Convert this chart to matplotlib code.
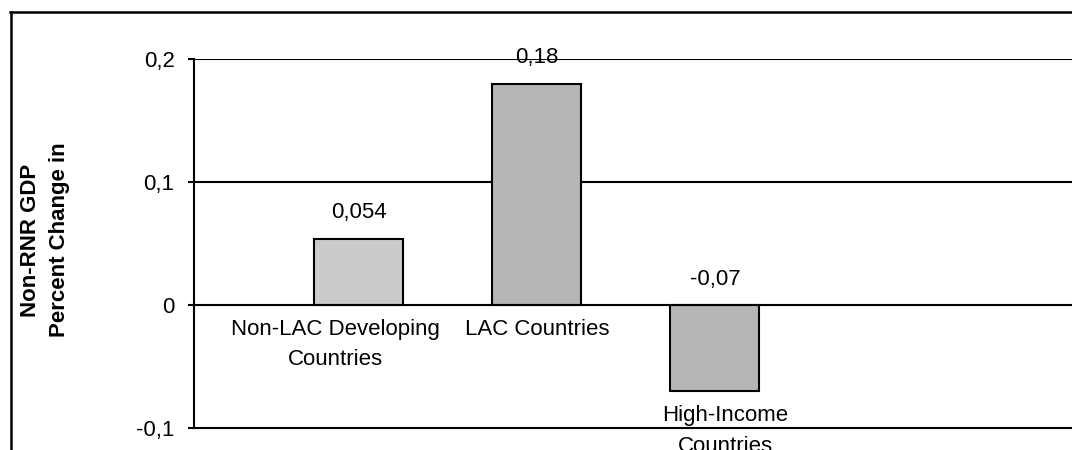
import matplotlib
matplotlib.use("Agg")
import matplotlib.pyplot as plt
from matplotlib.lines import Line2D

categories = ["Non-LAC Developing\nCountries", "LAC Countries", "High-Income\nCountries"]
values = [0.054, 0.18, -0.07]
value_labels = ["0,054", "0,18", "-0,07"]
yticks = [-0.1, 0.0, 0.1, 0.2]
ytick_labels = ["-0,1", "0", "0,1", "0,2"]
ylabel = "Non-RNR GDP\nPercent Change in"

plt.rcParams['font.family'] = ['Liberation Sans', 'DejaVu Sans']

W, H = 1072, 450
fig = plt.figure(figsize=(W / 100, H / 100), dpi=100)
fig.patch.set_facecolor("white")

ax = fig.add_axes([194 / W, 1 - 428 / H, (W - 194) / W, (428 - 59) / H])
x = list(range(len(values)))
colors = ["#cbcbcb", "#b6b6b6", "#b6b6b6"]
ax.bar(x, values, width=0.5, color=colors, edgecolor="black", linewidth=1.5, zorder=3)

ax.set_ylim(-0.1, 0.2)
ax.set_xlim(-0.927, 4.006)
ax.set_yticks(yticks)
ax.set_yticklabels(ytick_labels, fontsize=16)
ax.set_xticks([])
for y in [0.1, 0.2]:
    ax.axhline(y, color="black", linewidth=1.5, zorder=1)
ax.axhline(0, color="black", linewidth=1.5, zorder=4)
for s in ["top", "right"]:
    ax.spines[s].set_visible(False)
ax.spines["left"].set_linewidth(1.5)
ax.spines["bottom"].set_linewidth(1.5)
ax.tick_params(axis="y", length=4.5, width=1.5, pad=9.5)

label_dx = [-0.135, 0.0, 0.06]
for xi, v, lab, cat, dx in zip(x, values, value_labels, categories, label_dx):
    ax.annotate(lab, (xi, max(v, 0)), xytext=(0, 18.5), textcoords="offset points",
                ha="center", va="center", fontsize=16)
    ax.annotate(cat, (xi + dx, min(v, 0)),
                xytext=(0, -10), textcoords="offset points",
                ha="center", va="top", fontsize=16, linespacing=1.6)

fig.text(45 / W, 1 - 240 / H, ylabel, rotation=90, ha="center", va="center",
         fontsize=16, fontweight="bold", linespacing=1.55)

fig.add_artist(Line2D([10.5 / W, 10.5 / W], [0, 1 - 12 / H], color="black", linewidth=1.8,
                      transform=fig.transFigure))
fig.add_artist(Line2D([10 / W, 1], [1 - 12 / H, 1 - 12 / H], color="black", linewidth=1.8,
                      transform=fig.transFigure))

fig.savefig("out.png", dpi=100, facecolor="white")
